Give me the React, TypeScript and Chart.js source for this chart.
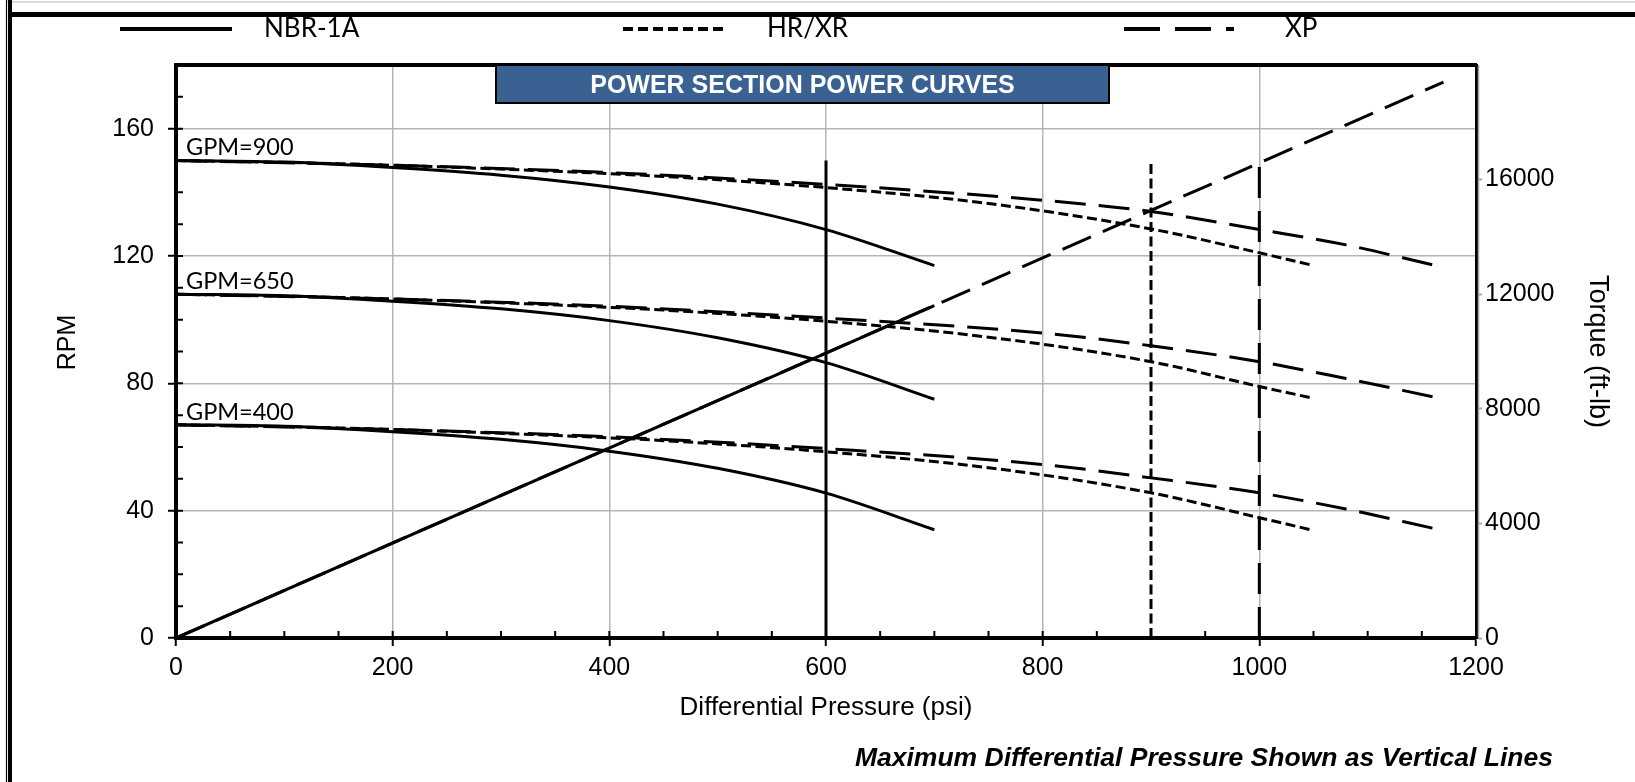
import React, { useEffect, useRef } from "react";
import { Chart, registerables } from "chart.js";

Chart.register(...registerables);

// ---------- data ----------
const pressureNBR = [0, 100, 200, 300, 400, 500, 600, 700];
const rpmNBR900 = [150, 149.5, 147.8, 145.4, 141.7, 136.3, 128.3, 117];
const rpmNBR650 = [108, 107.5, 105.8, 103.4, 99.7, 94.3, 86.5, 75];
const rpmNBR400 = [67, 66.5, 64.8, 62.4, 58.7, 53.3, 45.5, 34];

const pressureHR = [0, 150, 300, 450, 600, 750, 900, 1000, 1050];
const rpmHR900 = [150, 149, 147.3, 145, 141.5, 136.5, 128.5, 121, 117];
const rpmHR650 = [108, 107, 105.3, 103, 99.5, 94.5, 86.8, 79, 75.3];
const rpmHR400 = [67, 66, 64.3, 62, 58.5, 53.5, 45.6, 37.8, 33.8];

const pressureXP = [0, 200, 400, 600, 800, 900, 1000, 1080, 1160];
const rpmXP900 = [150, 148.5, 146.2, 142.5, 137.5, 134, 128.3, 123.5, 117.2];
const rpmXP650 = [108, 106.5, 104.2, 100.5, 95.8, 91.8, 86.8, 81.5, 75.8];
const rpmXP400 = [67, 65.5, 63.2, 59.5, 54.5, 50.3, 45.6, 40.5, 34.5];

const torquePressureNBR = [0, 700];
const torqueNBR = [0, 11600];
const torquePressureXP = [0, 1170];
const torqueXP = [0, 19400];

const maxPressure = [600, 900, 1000];
const maxLineRpm = [150, 149, 150];

const legendNames = ["NBR-1A", "HR/XR", "XP"];
const gpmLabels = ["GPM=900", "GPM=650", "GPM=400"];
const gpmStartRpm = [rpmNBR900[0], rpmNBR650[0], rpmNBR400[0]];

const xTicks = [0, 200, 400, 600, 800, 1000, 1200];
const rpmTicks = [0, 40, 80, 120, 160];
const torqueTicks = [0, 4000, 8000, 12000, 16000];

const chartTitle = "POWER SECTION POWER CURVES";
const noteText = "Maximum Differential Pressure Shown as Vertical Lines";
const rpmTitle = "RPM";

// ---------- styles ----------
const ARIAL = "'Liberation Sans', Arial, sans-serif";
const CALIBRI = "Lato, 'Open Sans', sans-serif";
const DASH_SHORT = [10, 4.5];
const DASH_LONG = [31, 13];
const LEGEND_DASH_LONG = [36, 15];

const pts = (xs: number[], ys: number[]) => xs.map((x, i) => ({ x, y: ys[i] }));
const plain = (v: any) => String(v);

const curve = (xs: number[], ys: number[], dash: number[], label: string) => ({
  label,
  data: pts(xs, ys),
  borderColor: "#000",
  borderWidth: 3,
  borderDash: dash,
  pointRadius: 0,
  cubicInterpolationMode: "monotone" as const,
  fill: false,
  yAxisID: "y",
});

const decorPlugin = {
  id: "decor",
  afterDraw(chart: any) {
    const ctx = chart.ctx as CanvasRenderingContext2D;
    const { left, right, top, bottom } = chart.chartArea;
    const sx = chart.scales.x;
    const sy = chart.scales.y;
    const W = chart.width;
    const H = chart.height;
    ctx.save();

    // plot top border
    ctx.strokeStyle = "#000";
    ctx.lineWidth = 4;
    ctx.beginPath();
    ctx.moveTo(left - 2, top);
    ctx.lineTo(right + 1, top);
    ctx.stroke();

    // secondary gray right border
    ctx.strokeStyle = "#a6a6a6";
    ctx.lineWidth = 1.5;
    ctx.beginPath();
    ctx.moveTo(right + 2.5, top);
    ctx.lineTo(right + 2.5, bottom);
    ctx.stroke();

    // minor ticks inward
    ctx.strokeStyle = "#000";
    ctx.lineWidth = 2;
    ctx.beginPath();
    for (let v = 0; v <= 180; v += 10) {
      const py = sy.getPixelForValue(v);
      ctx.moveTo(left, py);
      ctx.lineTo(left + 7, py);
    }
    for (let v = 0; v <= 1200; v += 50) {
      const px = sx.getPixelForValue(v);
      ctx.moveTo(px, bottom);
      ctx.lineTo(px, bottom - 7);
    }
    ctx.stroke();

    // title box
    const bx0 = left + 320;
    const bx1 = left + 933;
    const by0 = top;
    const by1 = top + 38;
    ctx.fillStyle = "#396191";
    ctx.fillRect(bx0, by0, bx1 - bx0, by1 - by0);
    ctx.strokeStyle = "#000";
    ctx.lineWidth = 2;
    ctx.strokeRect(bx0, by0, bx1 - bx0, by1 - by0);
    ctx.fillStyle = "#fff";
    ctx.font = `bold 25px ${ARIAL}`;
    ctx.textAlign = "center";
    ctx.textBaseline = "middle";
    ctx.fillText(chartTitle, (bx0 + bx1) / 2, (by0 + by1) / 2 + 2);

    // GPM labels
    ctx.fillStyle = "#000";
    ctx.font = `23.5px ${CALIBRI}`;
    ctx.textAlign = "left";
    gpmLabels.forEach((t, i) => {
      ctx.fillText(t, left + 10, sy.getPixelForValue(gpmStartRpm[i] + 4));
    });

    // RPM axis title
    ctx.save();
    ctx.translate(68, (top + bottom) / 2 - 9);
    ctx.rotate(-Math.PI / 2);
    ctx.font = `25px ${ARIAL}`;
    ctx.textAlign = "center";
    ctx.textBaseline = "middle";
    ctx.fillText(rpmTitle, 0, 0);
    ctx.restore();

    // frame
    ctx.strokeStyle = "#dcdcdc";
    ctx.lineWidth = 2;
    ctx.beginPath();
    ctx.moveTo(6, 2);
    ctx.lineTo(W, 2);
    ctx.stroke();
    ctx.strokeStyle = "#000";
    ctx.lineWidth = 1.2;
    ctx.beginPath();
    ctx.moveTo(6.5, 0);
    ctx.lineTo(6.5, H);
    ctx.stroke();
    ctx.lineWidth = 4;
    ctx.beginPath();
    ctx.moveTo(10, 0);
    ctx.lineTo(10, H);
    ctx.stroke();
    ctx.lineWidth = 5;
    ctx.beginPath();
    ctx.moveTo(8, 14.5);
    ctx.lineTo(W, 14.5);
    ctx.stroke();

    // legend
    const ly = 29;
    const legendItems = [
      { x0: 120, x1: 232, tx: 264, dash: [] as number[] },
      { x0: 623, x1: 727, tx: 767, dash: [10, 5] },
      { x0: 1124, x1: 1234, tx: 1285, dash: LEGEND_DASH_LONG },
    ];
    legendItems.forEach((it, i) => {
      ctx.strokeStyle = "#000";
      ctx.lineWidth = 4;
      ctx.setLineDash(it.dash);
      ctx.beginPath();
      ctx.moveTo(it.x0, ly);
      ctx.lineTo(it.x1, ly);
      ctx.stroke();
      ctx.setLineDash([]);
      ctx.fillStyle = "#000";
      ctx.font = `26px ${CALIBRI}`;
      ctx.textAlign = "left";
      ctx.textBaseline = "middle";
      ctx.fillText(legendNames[i], it.tx, ly);
    });

    // note
    ctx.font = `italic bold 26.5px ${ARIAL}`;
    ctx.textAlign = "right";
    ctx.textBaseline = "middle";
    ctx.fillText(noteText, 1553, 759);

    ctx.restore();
  },
};

export default function App() {
  const ref = useRef<HTMLCanvasElement | null>(null);

  useEffect(() => {
    if (!ref.current) return;
    const datasets: any[] = [
      curve(pressureNBR, rpmNBR900, [], "NBR-1A 900"),
      curve(pressureNBR, rpmNBR650, [], "NBR-1A 650"),
      curve(pressureNBR, rpmNBR400, [], "NBR-1A 400"),
      curve(pressureHR, rpmHR900, DASH_SHORT, "HR/XR 900"),
      curve(pressureHR, rpmHR650, DASH_SHORT, "HR/XR 650"),
      curve(pressureHR, rpmHR400, DASH_SHORT, "HR/XR 400"),
      curve(pressureXP, rpmXP900, DASH_LONG, "XP 900"),
      curve(pressureXP, rpmXP650, DASH_LONG, "XP 650"),
      curve(pressureXP, rpmXP400, DASH_LONG, "XP 400"),
      {
        label: "Torque NBR-1A",
        data: pts(torquePressureNBR, torqueNBR),
        borderColor: "#000",
        borderWidth: 3,
        pointRadius: 0,
        yAxisID: "y1",
      },
      {
        label: "Torque XP",
        data: pts(torquePressureXP, torqueXP),
        borderColor: "#000",
        borderWidth: 3,
        borderDash: DASH_LONG,
        pointRadius: 0,
        yAxisID: "y1",
      },
    ];
    const dashes = [[], DASH_SHORT, DASH_LONG];
    maxPressure.forEach((p, i) => {
      datasets.push({
        label: "Max " + legendNames[i],
        data: pts([p, p], [0, maxLineRpm[i]]),
        borderColor: "#000",
        borderWidth: 3,
        borderDash: dashes[i],
        pointRadius: 0,
        yAxisID: "y",
      });
    });

    const chart = new Chart(ref.current, {
      type: "line",
      data: { datasets },
      plugins: [decorPlugin],
      options: {
        animation: false,
        responsive: false,
        layout: { padding: { top: 65, left: 0, right: 0, bottom: 0 } },
        plugins: { legend: { display: false }, tooltip: { enabled: false } },
        scales: {
          x: {
            type: "linear",
            min: 0,
            max: 1200,
            afterBuildTicks: (s: any) => {
              s.ticks = xTicks.map((v) => ({ value: v }));
            },
            afterFit: (s: any) => {
              s.height = 144;
            },
            ticks: {
              color: "#000",
              font: { family: ARIAL, size: 25 },
              padding: 7,
              maxRotation: 0,
              callback: plain,
            },
            grid: {
              color: (c: any) =>
                c.tick && (c.tick.value === 0 || c.tick.value === 1200) ? "rgba(0,0,0,0)" : "#b5b5b5",
              lineWidth: 1.5,
              tickColor: "#000",
              tickWidth: 2,
              tickLength: 8,
            },
            border: { display: true, color: "#000", width: 4 },
            title: {
              display: true,
              text: "Differential Pressure (psi)",
              color: "#000",
              font: { family: ARIAL, size: 26 },
              padding: { top: 0, bottom: 59 },
            },
          },
          y: {
            type: "linear",
            position: "left",
            min: 0,
            max: 180,
            afterBuildTicks: (s: any) => {
              s.ticks = rpmTicks.map((v) => ({ value: v }));
            },
            afterFit: (s: any) => {
              s.width = 176;
            },
            ticks: {
              color: "#000",
              font: { family: ARIAL, size: 25 },
              padding: 14,
              callback: plain,
            },
            grid: {
              color: (c: any) => (c.tick && c.tick.value === 0 ? "rgba(0,0,0,0)" : "#b5b5b5"),
              lineWidth: 1.5,
              tickColor: "#000",
              tickWidth: 2,
              tickLength: 8,
            },
            border: { display: true, color: "#000", width: 4 },
            title: { display: false },
          },
          y1: {
            type: "linear",
            position: "right",
            min: 0,
            max: 20000,
            afterBuildTicks: (s: any) => {
              s.ticks = torqueTicks.map((v) => ({ value: v }));
            },
            afterFit: (s: any) => {
              s.width = 159;
            },
            ticks: {
              color: "#000",
              font: { family: ARIAL, size: 25 },
              padding: 3,
              callback: plain,
            },
            grid: {
              drawOnChartArea: false,
              tickColor: "#a6a6a6",
              tickWidth: 2,
              tickLength: 6,
            },
            border: { display: true, color: "#000", width: 3 },
            title: {
              display: true,
              text: "Torque (ft-lb)",
              color: "#000",
              font: { family: ARIAL, size: 27 },
              padding: { top: 21, bottom: 0 },
            },
          },
        },
      } as any,
    });
    return () => chart.destroy();
  }, []);

  return (
    <div
      style={{
        position: "absolute",
        left: 0,
        top: 0,
        width: 1635,
        height: 782,
        background: "#fff",
      }}
    >
      <canvas ref={ref} width={1635} height={782} style={{ display: "block" }} />
    </div>
  );
}
